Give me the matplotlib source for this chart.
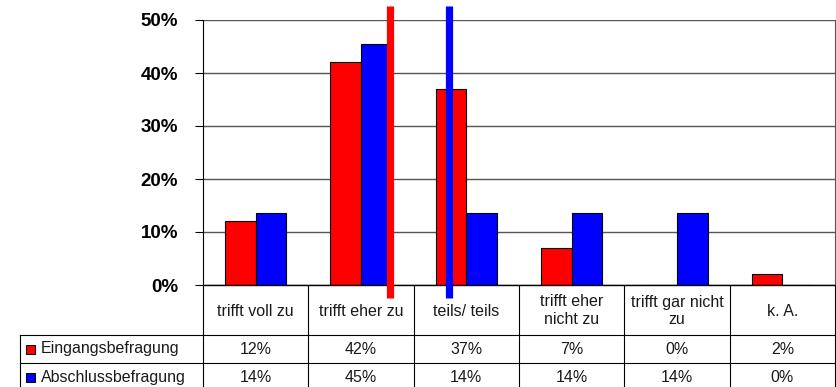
import matplotlib
matplotlib.use("Agg")
import matplotlib.pyplot as plt
from matplotlib.patches import Rectangle
from matplotlib.ticker import FuncFormatter

# Antwortkategorien und Anteile je Befragung
kategorien = ["trifft voll zu", "trifft eher zu", "teils/ teils",
              "trifft eher\nnicht zu", "trifft gar nicht\nzu", "k. A."]
serien = ["Eingangsbefragung", "Abschlussbefragung"]
eingang = [0.12, 0.42, 0.37, 0.07, 0.00, 0.02]
abschluss = [0.1364, 0.4545, 0.1364, 0.1364, 0.1364, 0.00]
# Lage der Mittelwerte auf der Kategorienachse (0 = erste Kategorie)
mittelwerte = [1.28, 1.84]

farben = ["#ff0000", "#0000ff"]

W, H = 837, 387
L, R, T, B = 203, 835, 20, 285   # plot area in pixels

plt.rcParams["font.family"] = ["Liberation Sans", "DejaVu Sans"]

fig = plt.figure(figsize=(W / 100, H / 100), dpi=100)
ax = fig.add_axes([L / W, 1 - B / H, (R - L) / W, (B - T) / H])

n = len(kategorien)
bw = 0.29
xs = list(range(n))
for k, (vals, col) in enumerate(zip([eingang, abschluss], farben)):
    off = (k - 0.5) * bw
    ax.bar([x + off for x in xs], vals, width=bw, color=col,
           edgecolor="black", linewidth=0.8, zorder=3)

ax.set_xlim(-0.5, n - 0.5)
ax.set_ylim(0, 0.5)
ax.set_yticks([i / 10 for i in range(6)])
ax.yaxis.set_major_formatter(FuncFormatter(lambda v, _: f"{v:.0%}"))
ax.tick_params(axis="y", length=6, width=0.8, pad=12, labelsize=13.5)
for lab in ax.get_yticklabels():
    lab.set_fontweight("bold")
ax.set_xticks([])
ax.yaxis.grid(True, color="#555555", linewidth=1, zorder=0)
ax.set_axisbelow(True)
for s in ["top", "bottom"]:
    ax.spines[s].set_visible(False)
ax.spines["left"].set_color("black")
ax.spines["right"].set_color("#555555")
ax.axhline(0, color="black", linewidth=1, zorder=4, clip_on=False)

# Mittelwert-Markierungen, über die Zeichenfläche hinaus
for m, col in zip(mittelwerte, farben):
    ax.axvline(m, ymin=-13 / (B - T), ymax=(B - 5.5) / (B - T), color=col,
               linewidth=5.2, solid_capstyle="butt", zorder=5, clip_on=False)

# Datentabelle unter dem Diagramm, in Pixelkoordinaten
tb = fig.add_axes([0, 0, 1, 1], zorder=-1)
tb.set_xlim(0, W)
tb.set_ylim(H, 0)
tb.axis("off")

cw = (R - L) / n
rows = [B, 335, 363, 392]
lc = "black"
lw = 0.8
for i in range(n + 1):
    x = L + i * cw
    tb.plot([x, x], [rows[0], rows[-1]], color=lc, linewidth=lw)
tb.plot([20, 20], [rows[1], rows[-1]], color=lc, linewidth=lw)
for y in rows[1:3]:
    tb.plot([20, R], [y, y], color=lc, linewidth=lw)

txt = dict(fontsize=11.5, color="#1a1a1a", ha="center", va="center",
           linespacing=1.25)
for i, kat in enumerate(kategorien):
    tb.text(L + (i + 0.5) * cw, (rows[0] + rows[1]) / 2 + 1, kat, **txt)

for r, (name, vals, col) in enumerate(zip(serien, [eingang, abschluss], farben)):
    yc = (rows[r + 1] + rows[r + 2]) / 2
    tb.add_patch(Rectangle((26, yc - 4.5), 9, 9, facecolor=col,
                           edgecolor="black", linewidth=0.7))
    tb.text(41, yc, name, fontsize=11.5, color="#1a1a1a", ha="left", va="center")
    for i, v in enumerate(vals):
        tb.text(L + (i + 0.5) * cw, yc, f"{v:.0%}", **txt)

fig.savefig("out.png", dpi=100)
